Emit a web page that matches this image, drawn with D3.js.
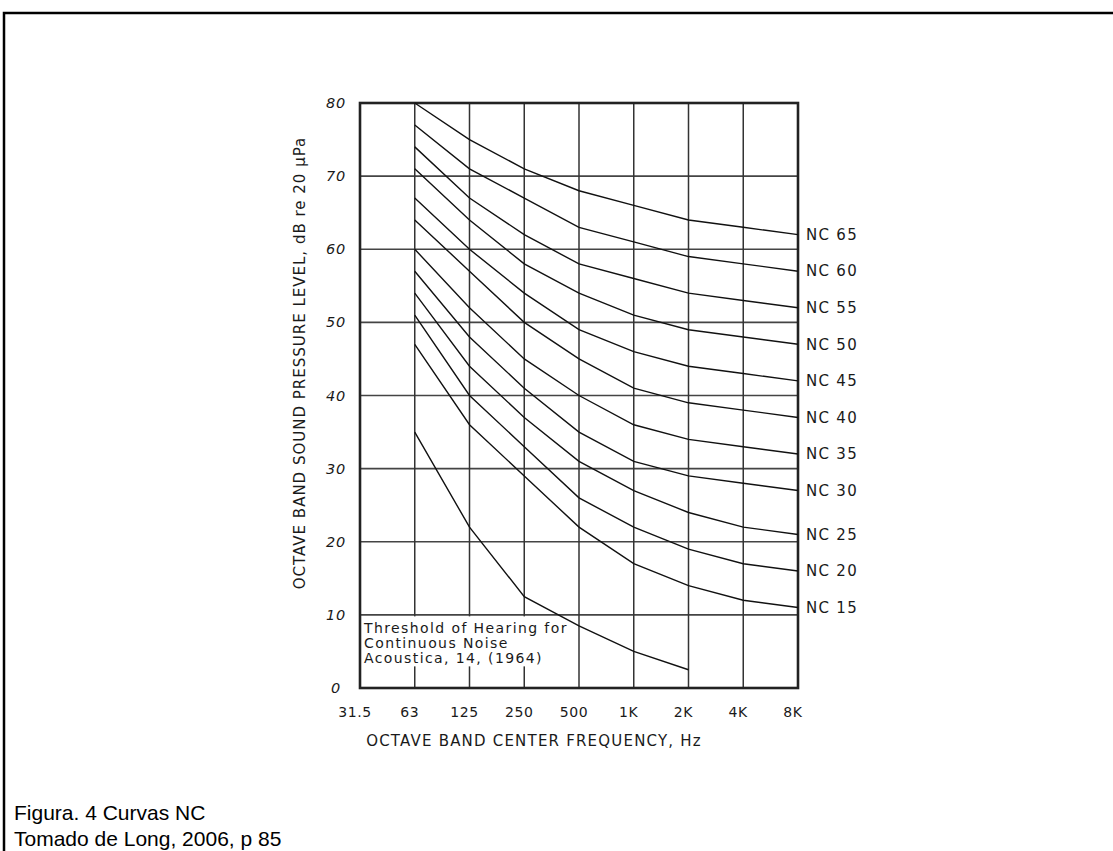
<!DOCTYPE html>
<html>
<head>
<meta charset="utf-8">
<script src="https://cdn.jsdelivr.net/npm/d3@7"></script>
<style>
  body { margin: 0; background: #fff; }
  svg text { fill: #1a1a1a; }
</style>
</head>
<body>
<div id="chart"></div>
<script>
// octave band center frequencies
var bands = ["31.5", "63", "125", "250", "500", "1K", "2K", "4K", "8K"];
var curveBands = ["63", "125", "250", "500", "1K", "2K", "4K", "8K"];
var yTicks = [0, 10, 20, 30, 40, 50, 60, 70, 80];

// NC curves, dB at 63 .. 8K
var nc65 = [80, 75, 71, 68, 66, 64, 63, 62];
var nc60 = [77, 71, 67, 63, 61, 59, 58, 57];
var nc55 = [74, 67, 62, 58, 56, 54, 53, 52];
var nc50 = [71, 64, 58, 54, 51, 49, 48, 47];
var nc45 = [67, 60, 54, 49, 46, 44, 43, 42];
var nc40 = [64, 57, 50, 45, 41, 39, 38, 37];
var nc35 = [60, 52, 45, 40, 36, 34, 33, 32];
var nc30 = [57, 48, 41, 35, 31, 29, 28, 27];
var nc25 = [54, 44, 37, 31, 27, 24, 22, 21];
var nc20 = [51, 40, 33, 26, 22, 19, 17, 16];
var nc15 = [47, 36, 29, 22, 17, 14, 12, 11];
var ncNames = ["NC 65", "NC 60", "NC 55", "NC 50", "NC 45", "NC 40", "NC 35", "NC 30", "NC 25", "NC 20", "NC 15"];

// threshold of hearing, 63 .. 2K
var thresholdBands = ["63", "125", "250", "500", "1K", "2K"];
var threshold = [35, 22, 12.5, 8.5, 5, 2.5];
var thresholdNote = ["Threshold of Hearing for", "Continuous Noise", "Acoustica, 14, (1964)"];

var captionLines = ["Figura. 4 Curvas NC", "Tomado de Long, 2006, p 85"];

var ncSeries = [nc65, nc60, nc55, nc50, nc45, nc40, nc35, nc30, nc25, nc20, nc15];

var W = 1113, H = 851;
var chartFont = "'DejaVu Sans', sans-serif";

var svg = d3.select("#chart").append("svg")
    .attr("width", W)
    .attr("height", H);

// page frame (only top and left edges visible)
svg.append("path")
    .attr("d", "M4,851 L4,13 L1113,13")
    .attr("fill", "none")
    .attr("stroke", "#000")
    .attr("stroke-width", 2.5);

var x = d3.scalePoint().domain(bands).range([360, 798]);
var y = d3.scaleLinear().domain([0, 80]).range([688, 103]);

// horizontal grid
svg.append("g").selectAll("line")
    .data(yTicks.filter(function(d) { return d > 0 && d < 80; }))
    .enter().append("line")
    .attr("x1", x("31.5")).attr("x2", x("8K"))
    .attr("y1", function(d) { return y(d); })
    .attr("y2", function(d) { return y(d); })
    .attr("stroke", "#444")
    .attr("stroke-width", 1.6);

// vertical grid
svg.append("g").selectAll("line")
    .data(bands.slice(1, -1))
    .enter().append("line")
    .attr("x1", function(d) { return x(d); })
    .attr("x2", function(d) { return x(d); })
    .attr("y1", y(80)).attr("y2", y(0))
    .attr("stroke", "#333")
    .attr("stroke-width", 1.5);

// note box knocks out the grid behind the text
svg.append("rect")
    .attr("x", x("31.5") + 1)
    .attr("y", y(10) + 1.5)
    .attr("width", x("500") - x("31.5") - 3)
    .attr("height", 50)
    .attr("fill", "#fff");

svg.append("g").selectAll("text")
    .data(thresholdNote)
    .enter().append("text")
    .attr("x", x("31.5") + 4)
    .attr("y", function(d, i) { return y(10) + 18 + i * 15; })
    .attr("font-family", chartFont)
    .attr("font-size", "14px")
    .attr("letter-spacing", "1.4px")
    .text(function(d) { return d; });

// plot frame
svg.append("rect")
    .attr("x", x("31.5")).attr("y", y(80))
    .attr("width", x("8K") - x("31.5"))
    .attr("height", y(0) - y(80))
    .attr("fill", "none")
    .attr("stroke", "#222")
    .attr("stroke-width", 2.6);

var line = d3.line()
    .x(function(d) { return x(d.band); })
    .y(function(d) { return y(d.value); });

var curves = ncSeries.map(function(vals, i) {
    return {
        name: ncNames[i],
        points: vals.map(function(v, j) { return { band: curveBands[j], value: v }; })
    };
});

svg.append("g").selectAll("path")
    .data(curves)
    .enter().append("path")
    .attr("d", function(d) { return line(d.points); })
    .attr("fill", "none")
    .attr("stroke", "#111")
    .attr("stroke-width", 1.4);

svg.append("path")
    .datum(threshold.map(function(v, j) { return { band: thresholdBands[j], value: v }; }))
    .attr("d", line)
    .attr("fill", "none")
    .attr("stroke", "#111")
    .attr("stroke-width", 1.4);

// curve labels on the right
svg.append("g").selectAll("text")
    .data(curves)
    .enter().append("text")
    .attr("x", x("8K") + 8)
    .attr("y", function(d) { return y(d.points[d.points.length - 1].value); })
    .attr("dy", "0.35em")
    .attr("font-family", chartFont)
    .attr("font-size", "15px")
    .attr("letter-spacing", "1.3px")
    .text(function(d) { return d.name; });

// y tick labels
svg.append("g").selectAll("text")
    .data(yTicks)
    .enter().append("text")
    .attr("x", 336)
    .attr("y", function(d) { return y(d); })
    .attr("dy", "0.35em")
    .attr("text-anchor", "middle")
    .attr("font-family", chartFont)
    .attr("font-style", "italic")
    .attr("font-size", "14.5px")
    .attr("letter-spacing", "0.8px")
    .text(function(d) { return d; });

// x tick labels
svg.append("g").selectAll("text")
    .data(bands)
    .enter().append("text")
    .attr("x", function(d) { return x(d) - 5; })
    .attr("y", 712)
    .attr("dy", "0.35em")
    .attr("text-anchor", "middle")
    .attr("font-family", chartFont)
    .attr("font-size", "14px")
    .attr("letter-spacing", "0.6px")
    .text(function(d) { return d; });

// axis titles
svg.append("text")
    .attr("x", 534)
    .attr("y", 741)
    .attr("dy", "0.35em")
    .attr("text-anchor", "middle")
    .attr("font-family", chartFont)
    .attr("font-size", "15px")
    .attr("letter-spacing", "1.2px")
    .text("OCTAVE BAND CENTER FREQUENCY, Hz");

svg.append("text")
    .attr("transform", "translate(300,363) rotate(-90)")
    .attr("dy", "0.35em")
    .attr("text-anchor", "middle")
    .attr("font-family", chartFont)
    .attr("font-size", "15px")
    .attr("letter-spacing", "1px")
    .text("OCTAVE BAND SOUND PRESSURE LEVEL, dB re 20 \u00b5Pa");

// caption
svg.append("g").selectAll("text")
    .data(captionLines)
    .enter().append("text")
    .attr("x", 14)
    .attr("y", function(d, i) { return 820 + i * 26; })
    .attr("font-family", "'Liberation Sans', Arial, sans-serif")
    .attr("font-size", "21px")
    .style("fill", "#000")
    .text(function(d) { return d; });
</script>
</body>
</html>
